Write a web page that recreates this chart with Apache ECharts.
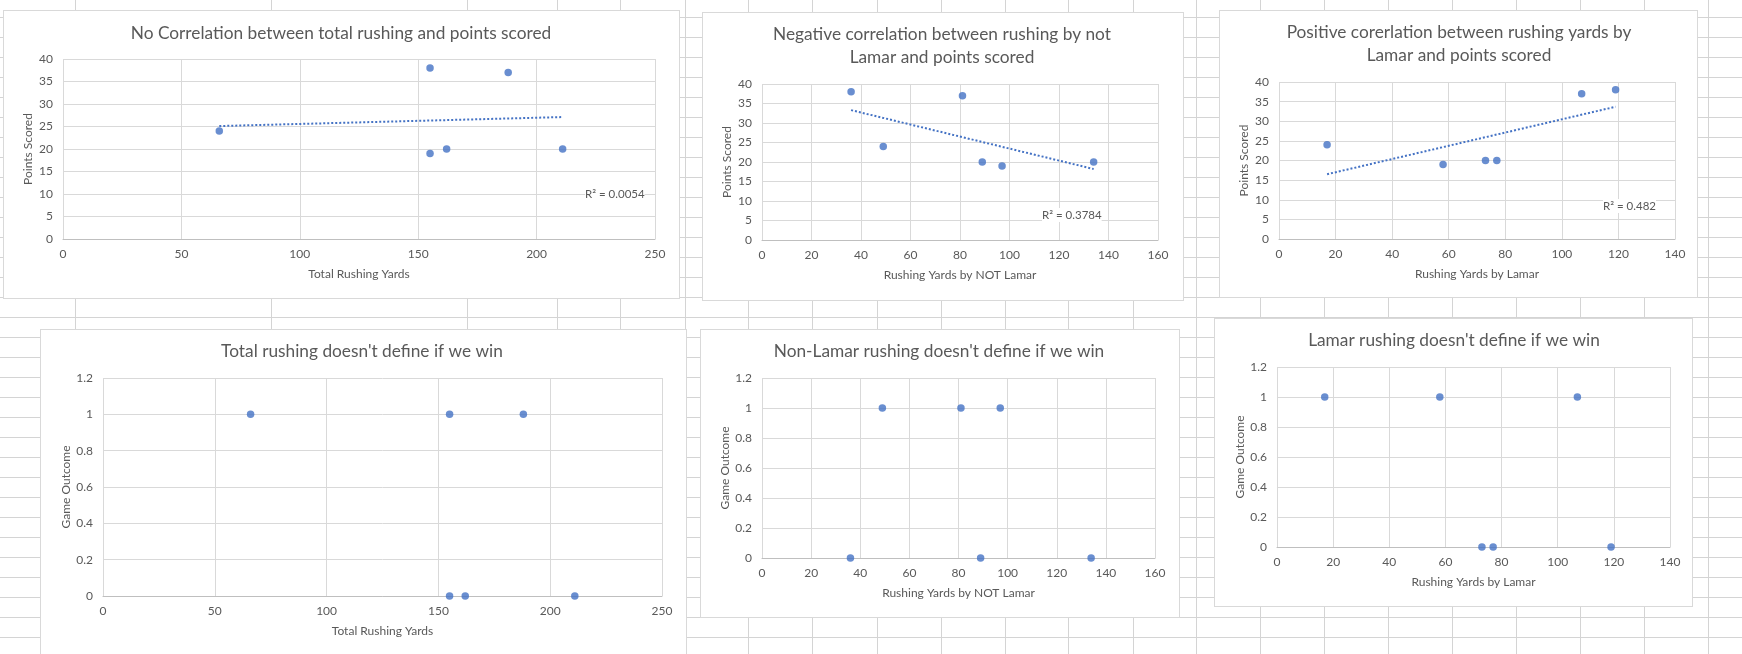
<!DOCTYPE html>
<html>
<head>
<meta charset="utf-8">
<script src="https://cdn.jsdelivr.net/npm/echarts@6/dist/echarts.min.js"></script>
<style>
  html, body { margin: 0; padding: 0; background: #fff; }
  #sheet { position: absolute; left: 0; top: 0; width: 1742px; height: 654px; overflow: hidden; }
  .row { position: absolute; left: 0; width: 1742px; height: 1px; background: #d4d4d4; }
  .col { position: absolute; top: 0; width: 1px; height: 654px; background: #d4d4d4; }
  .box { position: absolute; background: #fff; border: 1px solid #d9d9d9; box-sizing: border-box; }
  #main { position: absolute; left: 0; top: 0; width: 1742px; height: 654px; }
</style>
</head>
<body>
<div id="sheet"></div>
<div id="main"></div>
<script>
// game data (one entry per game)
const lamarYards = [17, 58, 73, 77, 107, 119];
const notLamarYards = [49, 97, 89, 134, 81, 36];
const totalYards = [66, 155, 162, 211, 188, 155];
const pointsScored = [24, 19, 20, 20, 37, 38];
const gameOutcome = [1, 1, 0, 0, 1, 0];

// linear trendline end points, as drawn
const trendTotal = [[66, 25.1], [211, 27.1]];
const trendNotLamar = [[36, 33.3], [134, 18.2]];
const trendLamar = [[17, 16.5], [119, 33.7]];
const rSquared = ["0.0054", "0.3784", "0.482"];

const titles = [
  "No Correlation between total rushing and points scored",
  "Negative correlation between rushing by not\nLamar and points scored",
  "Positive corerlation between rushing yards by\nLamar and points scored",
  "Total rushing doesn't define if we win",
  "Non-Lamar rushing doesn't define if we win",
  "Lamar rushing doesn't define if we win",
];

// spreadsheet cells behind the charts
const sheet = document.getElementById("sheet");
const colLines = [75, 271, 467, 557, 620, 685, 748, 812, 877, 941, 1005, 1068, 1133, 1196, 1260, 1324, 1388, 1452, 1516, 1580, 1644, 1708];
for (let y = 17; y < 654; y += 20) {
  const d = document.createElement("div");
  d.className = "row";
  d.style.top = y + "px";
  sheet.appendChild(d);
}
colLines.forEach((x) => {
  const d = document.createElement("div");
  d.className = "col";
  d.style.left = x + "px";
  sheet.appendChild(d);
});
const boxes = [
  [3, 10, 680, 299],
  [702, 12, 1184, 301],
  [1219, 10, 1698, 298],
  [40, 329, 687, 680],
  [700, 329, 1180, 618],
  [1214, 318, 1693, 607],
];
boxes.forEach((b) => {
  const d = document.createElement("div");
  d.className = "box";
  d.style.left = b[0] + "px";
  d.style.top = b[1] + "px";
  d.style.width = b[2] - b[0] + "px";
  d.style.height = b[3] - b[1] + "px";
  sheet.appendChild(d);
});

const FONT = "Lato";
const TXT = "#595959";
const BLUE = "#4472C4";

const grids = [
  { left: 63, top: 59, width: 592, height: 180 },
  { left: 762, top: 84, width: 396, height: 156 },
  { left: 1279, top: 82, width: 396, height: 157 },
  { left: 103, top: 378, width: 559, height: 218 },
  { left: 762, top: 378, width: 393, height: 180 },
  { left: 1277, top: 367, width: 393, height: 180 },
];

const xDefs = [
  { name: "Total Rushing Yards", max: 250, interval: 50 },
  { name: "Rushing Yards by NOT Lamar", max: 160, interval: 20 },
  { name: "Rushing Yards by Lamar", max: 140, interval: 20 },
  { name: "Total Rushing Yards", max: 250, interval: 50 },
  { name: "Rushing Yards by NOT Lamar", max: 160, interval: 20 },
  { name: "Rushing Yards by Lamar", max: 140, interval: 20 },
];

const xAxis = xDefs.map((d, i) => ({
  type: "value",
  gridIndex: i,
  min: 0,
  max: d.max,
  interval: d.interval,
  name: d.name,
  nameLocation: "middle",
  nameGap: 29,
  nameTextStyle: { color: TXT, fontSize: 12, fontFamily: FONT },
  axisLine: { show: true, lineStyle: { color: "#bfbfbf", width: 1 } },
  axisTick: { show: false },
  axisLabel: { color: TXT, fontSize: 12, fontFamily: FONT, margin: 9 },
  splitLine: { show: true, lineStyle: { color: "#d9d9d9", width: 1 } },
}));

const yAxis = [0, 1, 2, 3, 4, 5].map((i) => {
  const pts = i < 3;
  return {
    type: "value",
    gridIndex: i,
    min: 0,
    max: pts ? 40 : 1.2,
    interval: pts ? 5 : 0.2,
    name: pts ? "Points Scored" : "Game Outcome",
    nameLocation: "middle",
    nameGap: pts ? 29 : 31,
    nameTextStyle: { color: TXT, fontSize: 12, fontFamily: FONT },
    axisLine: { show: false },
    axisTick: { show: false },
    axisLabel: {
      color: TXT,
      fontSize: 12,
      fontFamily: FONT,
      margin: 10,
      formatter: (v) => String(+v.toFixed(1)),
    },
    splitLine: { show: true, lineStyle: { color: "#d9d9d9", width: 1 } },
  };
});

const xSets = [totalYards, notLamarYards, lamarYards, totalYards, notLamarYards, lamarYards];
const series = [];
xSets.forEach((xs, i) => {
  const ys = i < 3 ? pointsScored : gameOutcome;
  series.push({
    type: "scatter",
    xAxisIndex: i,
    yAxisIndex: i,
    symbol: "circle",
    symbolSize: 7.5,
    itemStyle: { color: BLUE },
    data: xs.map((x, k) => [x, ys[k]]),
    z: 3,
  });
});
[trendTotal, trendNotLamar, trendLamar].forEach((t, i) => {
  series.push({
    type: "line",
    xAxisIndex: i,
    yAxisIndex: i,
    showSymbol: false,
    silent: true,
    lineStyle: { color: BLUE, width: 2, type: [2, 2] },
    data: t,
    z: 4,
  });
});

const titlePos = [
  { x: 341, y: 22 },
  { x: 942, y: 23 },
  { x: 1459, y: 21 },
  { x: 362, y: 340 },
  { x: 939, y: 340 },
  { x: 1454, y: 329 },
];

const title = titles.map((t, i) => ({
  text: t,
  left: titlePos[i].x,
  top: titlePos[i].y,
  textAlign: "center",
  padding: 0,
  textStyle: {
    color: TXT,
    fontSize: 17.3,
    fontWeight: "normal",
    fontFamily: FONT,
    lineHeight: 23,
  },
}));

const rPos = [
  { x: 585, y: 194 },
  { x: 1042, y: 215 },
  { x: 1603, y: 206 },
];
const graphic = rSquared.map((r, i) => ({
  type: "text",
  x: rPos[i].x,
  y: rPos[i].y,
  z: 10,
  style: {
    text: "R² = " + r,
    fill: TXT,
    font: "11.5px " + FONT,
    verticalAlign: "middle",
    backgroundColor: "#fff",
    padding: [1, 0],
  },
}));

const chart = echarts.init(document.getElementById("main"));
chart.setOption({
  animation: false,
  title,
  grid: grids,
  xAxis,
  yAxis,
  series,
  graphic,
});
</script>
</body>
</html>
